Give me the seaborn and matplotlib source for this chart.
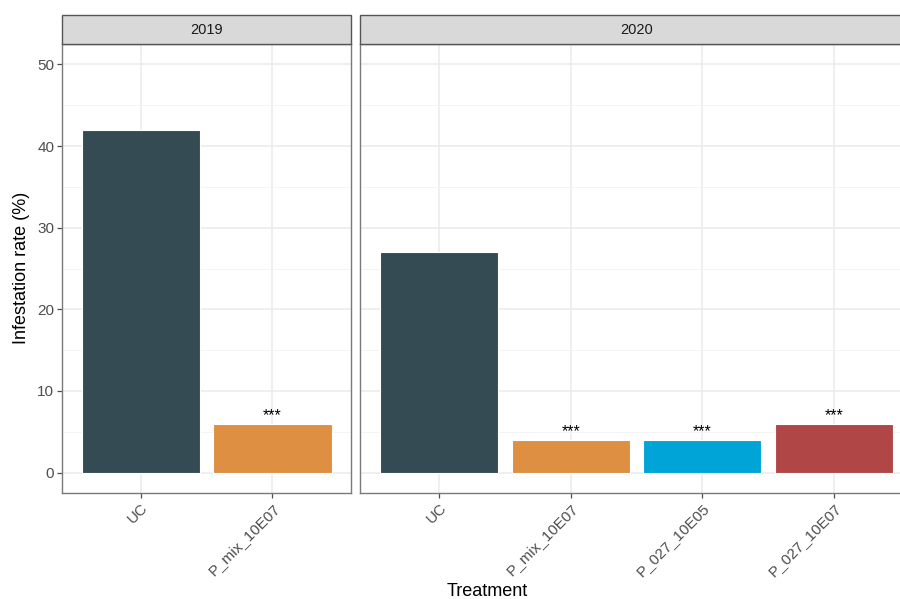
import matplotlib
matplotlib.use("Agg")
import matplotlib.pyplot as plt
import seaborn as sns
import pandas as pd
from matplotlib.patches import Rectangle
from matplotlib.ticker import MultipleLocator

# ---- data ----
years = ["2019", "2019", "2020", "2020", "2020", "2020"]
treatments = ["UC", "P_mix_10E07", "UC", "P_mix_10E07", "P_027_10E05", "P_027_10E07"]
infestation = [42, 6, 27, 4, 4, 6]
signif = ["", "***", "", "***", "***", "***"]
treatment_colors = {
    "UC": "#354b53",
    "P_mix_10E07": "#df8f42",
    "P_027_10E05": "#00a4d6",
    "P_027_10E07": "#b04646",
}
y_ticks = [0, 10, 20, 30, 40, 50]

df = pd.DataFrame({"year": years, "treatment": treatments,
                   "value": infestation, "sig": signif})

sns.set_theme(style="white")
plt.rcParams["font.family"] = ["Liberation Sans", "DejaVu Sans"]

W, H = 900, 599
fig = plt.figure(figsize=(9, 5.99), dpi=100)

unit = 131.5
panel_bottom = 493
panel_top = 44
strip_top = 15
left1 = 62
gap = 9

panels = []
x = left1
for yr in ["2019", "2020"]:
    sub = df[df["year"] == yr]
    n = len(sub)
    w = (n + 0.2) * unit
    ax = fig.add_axes([x / W, 1 - panel_bottom / H, w / W, (panel_bottom - panel_top) / H])
    panels.append((yr, ax, sub, x, w))
    x += w + gap

for i, (yr, ax, sub, x0, w) in enumerate(panels):
    order = list(sub["treatment"])
    sns.barplot(data=sub, x="treatment", y="value", hue="treatment", order=order,
                hue_order=order, palette=treatment_colors, width=0.9, saturation=1,
                edgecolor="white", linewidth=0.8, legend=False, ax=ax, zorder=3)
    ax.set_xlim(-0.6, len(order) - 0.4)
    ax.set_ylim(-2.5, 52.5)
    ax.yaxis.set_major_locator(MultipleLocator(10))
    ax.yaxis.set_minor_locator(MultipleLocator(5))
    ax.set_axisbelow(True)
    ax.grid(which="major", color="#ebebeb", linewidth=1.1)
    ax.grid(which="minor", axis="y", color="#f2f2f2", linewidth=0.6)
    ax.set_xlabel("")
    ax.set_ylabel("")
    for s in ax.spines.values():
        s.set_visible(True)
        s.set_color("#7a7a7a")
        s.set_linewidth(1.0)
    ax.tick_params(axis="both", which="major", length=3.5, width=0.9,
                   color="#4d4d4d", labelsize=11, labelcolor="#4d4d4d",
                   bottom=True, left=(i == 0), pad=2)
    ax.tick_params(axis="y", which="minor", length=0)
    ax.set_yticks(y_ticks)
    if i != 0:
        ax.set_yticklabels([])
    for lbl in ax.get_xticklabels():
        lbl.set_rotation(45)
        lbl.set_ha("right")
        lbl.set_rotation_mode("anchor")
        lbl.set_fontsize(11)
    for j, (val, s) in enumerate(zip(sub["value"], sub["sig"])):
        if s:
            ax.annotate(s, xy=(j, val), xytext=(0, 0.3), textcoords="offset points",
                        ha="center", va="bottom", fontsize=11.5, color="black")
    # strip
    fig.patches.append(Rectangle((x0 / W, 1 - panel_top / H), w / W,
                                 (panel_top - strip_top) / H, transform=fig.transFigure,
                                 facecolor="#d9d9d9", edgecolor="#555555",
                                 linewidth=1.0, zorder=5))
    fig.text((x0 + w / 2) / W, 1 - (panel_top + strip_top) / 2 / H, yr,
             ha="center", va="center", fontsize=10.5, color="#1a1a1a", zorder=6)

fig.text(22 / W, 1 - 268 / H, "Infestation rate (%)", rotation=90,
         ha="center", va="center", fontsize=13, color="black")
fig.text(487 / W, 1 - 591 / H, "Treatment", ha="center", va="center",
         fontsize=13, color="black")

fig.savefig("out.png", dpi=100, facecolor="white")
